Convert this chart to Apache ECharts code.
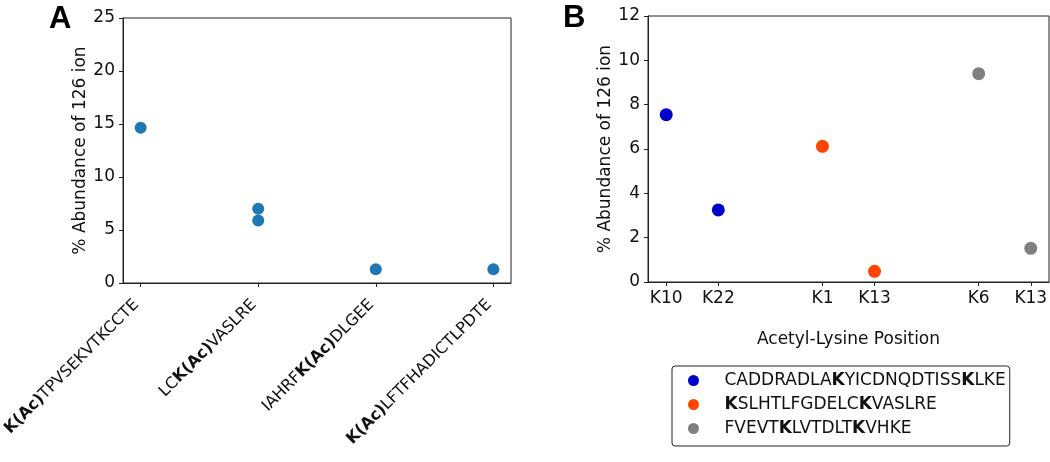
<!DOCTYPE html>
<html>
<head>
<meta charset="utf-8">
<script src="https://cdn.jsdelivr.net/npm/echarts@6/dist/echarts.min.js"></script>
<style>
html,body{margin:0;padding:0;background:#fff;}
#chart{width:1050px;height:462px;}
</style>
</head>
<body>
<div id="chart"></div>
<script>
// ---- Panel A data ----
const aCategories = ['K(Ac)TPVSEKVTKCCTE', 'LCK(Ac)VASLRE', 'IAHRFK(Ac)DLGEE', 'K(Ac)LFTFHADICTLPDTE'];
const aPointCategory = [0, 1, 1, 2, 3];
const aPointValues = [14.65, 7.0, 5.9, 1.3, 1.3];
const aYTicks = [0, 5, 10, 15, 20, 25];

// ---- Panel B data ----
const bTickLabels = ['K10', 'K22', 'K1', 'K13', 'K6', 'K13'];
const bTickPositions = [0, 1, 3, 4, 6, 7];
const bPeptides = ['CADDRADLAKYICDNQDTISSKLKE', 'KSLHTLFGDELCKVASLRE', 'FVEVTKLVTDLTKVHKE'];
const bBoldIdx = [[9, 21], [0, 12], [5, 12]];
const bSeriesPositions = [[0, 1], [3, 4], [6, 7]];
const bSeriesValues = [[7.55, 3.25], [6.12, 0.48], [9.4, 1.52]];
const bColors = ['#0000cd', '#ff4500', '#808080'];
const bYTicks = [0, 2, 4, 6, 8, 10, 12];

const FONT = 'DejaVu Sans';
const FS = 17;
const FSR = 16;
const TXT = '#111';
const AX = '#222';

function boldK(s) { return s.replace('K(Ac)', '{b|K(Ac)}'); }
function boldPeptide(s, idx) {
  let out = '';
  for (let i = 0; i < s.length; i++) out += idx.includes(i) ? '{b|' + s[i] + '}' : s[i];
  return '{s| }' + out;
}

const chart = echarts.init(document.getElementById('chart'), null, {renderer: 'canvas'});

const axisLine = {show: true, onZero: false, lineStyle: {color: AX, width: 1}};
const axisTick = {show: true, length: 4, inside: false, lineStyle: {color: AX}};

const aSeriesData = aPointValues.map((v, i) => [aPointCategory[i], v]);

const option = {
  animation: false,
  backgroundColor: '#fff',
  textStyle: {fontFamily: FONT},
  title: [
    {text: 'A', left: 44, top: -1, textStyle: {fontFamily: 'Liberation Sans', fontWeight: 'bold', fontSize: 31, color: '#000'}},
    {text: 'B', left: 558, top: -2, textStyle: {fontFamily: 'Liberation Sans', fontWeight: 'bold', fontSize: 31, color: '#000'}}
  ],
  grid: [
    {left: 123, top: 18, width: 388, height: 265, show: true, borderColor: AX, borderWidth: 1, containLabel: false, outerBoundsMode: 'none'},
    {left: 648, top: 16, width: 401, height: 266, show: true, borderColor: AX, borderWidth: 1, containLabel: false, outerBoundsMode: 'none'}
  ],
  xAxis: [
    {
      type: 'value', gridIndex: 0, min: -0.15, max: 3.15,
      splitLine: {show: false}, axisLine: axisLine,
      axisTick: Object.assign({}, axisTick, {customValues: aCategories.map((c, i) => i)}),
      axisLabel: {
        customValues: aCategories.map((c, i) => i),
        rotate: 45, margin: 15, fontSize: FSR, color: TXT, fontFamily: FONT,
        padding: [0, 6, 0, 0],
        formatter: v => boldK(aCategories[Math.round(v)]),
        rich: {b: {fontWeight: 'bold', fontSize: FSR, color: TXT, fontFamily: FONT}}
      }
    },
    {
      type: 'value', gridIndex: 1, min: -0.35, max: 7.35,
      splitLine: {show: false}, axisLine: axisLine,
      axisTick: Object.assign({}, axisTick, {customValues: bTickPositions}),
      axisLabel: {
        customValues: bTickPositions, margin: 8, fontSize: FS, color: TXT, fontFamily: FONT,
        formatter: v => bTickLabels[bTickPositions.indexOf(Math.round(v))]
      },
      name: 'Acetyl-Lysine Position', nameLocation: 'middle', nameGap: 49,
      nameTextStyle: {fontSize: FS, color: TXT, fontFamily: FONT}
    }
  ],
  yAxis: [
    {
      type: 'value', gridIndex: 0, min: 0, max: 25, interval: 5,
      splitLine: {show: false}, axisLine: axisLine, axisTick: axisTick,
      axisLabel: {customValues: aYTicks, margin: 8, fontSize: FS, color: TXT, fontFamily: FONT},
      name: '% Abundance of 126 ion', nameLocation: 'middle', nameGap: 30,
      nameTextStyle: {fontSize: FS, color: TXT, fontFamily: FONT}
    },
    {
      type: 'value', gridIndex: 1, min: 0, max: 12, interval: 2,
      splitLine: {show: false}, axisLine: axisLine, axisTick: axisTick,
      axisLabel: {customValues: bYTicks, margin: 8, fontSize: FS, color: TXT, fontFamily: FONT},
      name: '% Abundance of 126 ion', nameLocation: 'middle', nameGap: 34,
      nameTextStyle: {fontSize: FS, color: TXT, fontFamily: FONT}
    }
  ],
  legend: {
    data: bPeptides,
    orient: 'vertical',
    left: 672, top: 366,
    padding: [5, 4, 8, 16],
    itemGap: 5,
    itemWidth: 12, itemHeight: 11,
    icon: 'circle',
    borderColor: '#222', borderWidth: 1, borderRadius: 3,
    formatter: name => boldPeptide(name, bBoldIdx[bPeptides.indexOf(name)]),
    textStyle: {
      fontSize: FS, color: TXT, fontFamily: FONT, lineHeight: 19,
      rich: {
        b: {fontWeight: 'bold', fontSize: FS, color: TXT, fontFamily: FONT, lineHeight: 19},
        s: {width: 20, fontSize: FS, lineHeight: 19}
      }
    }
  },
  series: [
    {
      type: 'scatter', xAxisIndex: 0, yAxisIndex: 0,
      symbolSize: 12, itemStyle: {color: '#1f77b4', opacity: 1},
      data: aSeriesData
    }
  ].concat(bPeptides.map((p, k) => ({
    name: p, type: 'scatter', xAxisIndex: 1, yAxisIndex: 1,
    symbolSize: 13, itemStyle: {color: bColors[k], opacity: 1},
    data: bSeriesValues[k].map((v, i) => [bSeriesPositions[k][i], v])
  })))
};
chart.setOption(option);
</script>
</body>
</html>
